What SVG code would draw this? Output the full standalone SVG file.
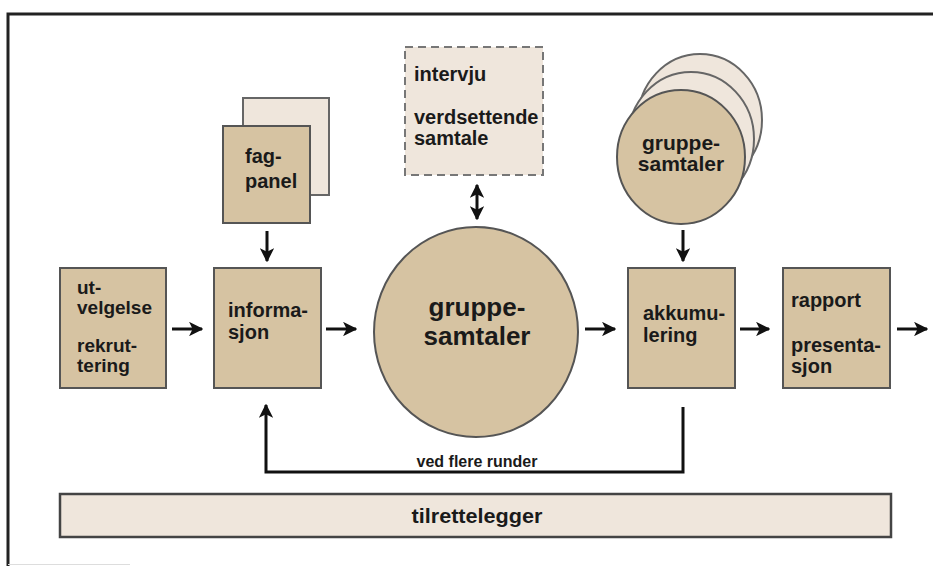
<svg xmlns="http://www.w3.org/2000/svg" width="933" height="566" viewBox="0 0 933 566">
<defs>
<marker id="ah" viewBox="0 0 10 10" refX="9" refY="5" markerWidth="4.8" markerHeight="4.8" orient="auto-start-reverse" markerUnits="strokeWidth">
<path d="M0,0 L10,5 L0,10 L2.5,5 Z" fill="#111"/>
</marker>
</defs>
<style>
.tan{fill:#d6c3a2;stroke:#555;stroke-width:2}
.lt{fill:#efe6dc;stroke:#666;stroke-width:2}
.t{font-family:"Liberation Sans",Arial,sans-serif;font-weight:bold;font-size:20px;fill:#1a1a1a}
.c{text-anchor:middle}
.ar{stroke:#111;stroke-width:3;fill:none;marker-end:url(#ah)}
</style>
<rect width="933" height="566" fill="#fff"/>
<g id="frame">
<path d="M8,566 L8,14 L933,14" fill="none" stroke="#222" stroke-width="3"/>
<line x1="8" y1="564.5" x2="130" y2="564.5" stroke="#ddd" stroke-width="1"/>
</g>
<g id="utvelgelse">
<rect class="tan" x="60" y="268" width="106" height="120"/>
<text class="t" x="77" y="294" style="font-size:19px">ut-</text>
<text class="t" x="77" y="314" style="font-size:19px">velgelse</text>
<text class="t" x="77" y="352" style="font-size:19px">rekrut-</text>
<text class="t" x="77" y="372" style="font-size:19px">tering</text>
</g>
<g id="fagpanel">
<rect class="lt" x="243" y="98" width="86" height="97"/>
<rect class="tan" x="223" y="126" width="87" height="97"/>
<text class="t" x="245" y="163">fag-</text>
<text class="t" x="245" y="188">panel</text>
</g>
<g id="informasjon">
<rect class="tan" x="214" y="268" width="107" height="120"/>
<text class="t" x="228" y="317">informa-</text>
<text class="t" x="228" y="339">sjon</text>
</g>
<g id="intervju">
<rect x="405" y="47" width="138" height="128" fill="#efe6dc" stroke="#777" stroke-width="2" stroke-dasharray="8,5"/>
<text class="t" x="414" y="81">intervju</text>
<text class="t" x="414" y="124">verdsettende</text>
<text class="t" x="414" y="145">samtale</text>
</g>
<g id="gruppesamtaler-main">
<ellipse class="tan" cx="476" cy="332" rx="102" ry="105" stroke-width="1.5"/>
<text class="t c" x="477" y="316" style="font-size:26px">gruppe-</text>
<text class="t c" x="477" y="345" style="font-size:26px">samtaler</text>
</g>
<g id="gruppesamtaler-stack">
<ellipse class="lt" cx="700" cy="120" rx="62" ry="66" stroke="#333" stroke-width="1.5"/>
<ellipse class="lt" cx="691" cy="139" rx="63" ry="67" stroke="#333" stroke-width="1.5"/>
<ellipse class="tan" cx="681" cy="157" rx="64" ry="67" stroke="#333" stroke-width="1.5"/>
<text class="t c" x="681" y="150" style="font-size:21px">gruppe-</text>
<text class="t c" x="681" y="171" style="font-size:21px">samtaler</text>
</g>
<g id="akkumulering">
<rect class="tan" x="628" y="268" width="107" height="120"/>
<text class="t" x="643" y="320">akkumu-</text>
<text class="t" x="643" y="342">lering</text>
</g>
<g id="rapport">
<rect class="tan" x="783" y="268" width="107" height="120"/>
<text class="t" x="791" y="307">rapport</text>
<text class="t" x="791" y="352">presenta-</text>
<text class="t" x="791" y="373">sjon</text>
</g>
<g id="tilrettelegger">
<rect x="60" y="494" width="831" height="43" fill="#efe6dc" stroke="#444" stroke-width="2.5"/>
<text class="t c" x="477" y="523" textLength="131" lengthAdjust="spacingAndGlyphs">tilrettelegger</text>
</g>
<g id="connectors">
<line class="ar" x1="172" y1="329" x2="202" y2="329"/>
<line class="ar" x1="326" y1="329" x2="356" y2="329"/>
<line class="ar" x1="585" y1="329" x2="615" y2="329"/>
<line class="ar" x1="740" y1="329" x2="769" y2="329"/>
<line class="ar" x1="897" y1="329" x2="927" y2="329"/>
<line class="ar" x1="267" y1="231" x2="267" y2="261"/>
<line class="ar" x1="683" y1="230" x2="683" y2="261"/>
<line class="ar" x1="477" y1="185" x2="477" y2="219" style="marker-start:url(#ah)"/>
<path class="ar" d="M683,407 L683,472 L266,472 L266,405"/>
<text class="t c" x="477" y="467" style="font-size:16px">ved flere runder</text>
</g>
</svg>
